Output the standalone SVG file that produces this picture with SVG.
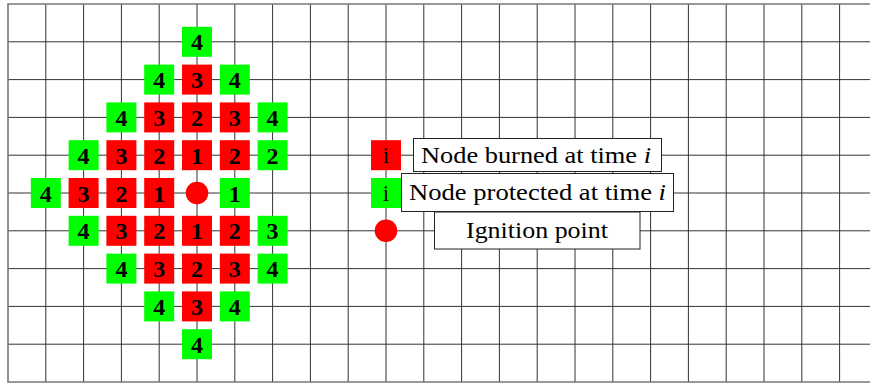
<svg xmlns="http://www.w3.org/2000/svg" width="870" height="384" viewBox="0 0 870 384">
<style>
.grid line{stroke:#333;stroke-width:1}
.frame{fill:none;stroke:#777;stroke-width:1.6}
.b{fill:#ff0000}
.p{fill:#00ff00}
.n text{font-family:"Liberation Serif","DejaVu Serif",serif;font-weight:bold;font-size:24px;text-anchor:middle;fill:#000}
.lg text{font-family:"Liberation Serif","DejaVu Serif",serif;font-size:23px;fill:#000}
.box{fill:#fff;stroke:#222;stroke-width:1}
</style>
<defs>
<rect id="sq" x="-15" y="-15" width="30" height="30"/>
</defs>
<rect width="870" height="384" fill="#fff"/>
<g class="grid">
<line x1="45.8" y1="4" x2="45.8" y2="382"/>
<line x1="83.6" y1="4" x2="83.6" y2="382"/>
<line x1="121.4" y1="4" x2="121.4" y2="382"/>
<line x1="159.2" y1="4" x2="159.2" y2="382"/>
<line x1="197" y1="4" x2="197" y2="382"/>
<line x1="234.8" y1="4" x2="234.8" y2="382"/>
<line x1="272.6" y1="4" x2="272.6" y2="382"/>
<line x1="310.4" y1="4" x2="310.4" y2="382"/>
<line x1="348.2" y1="4" x2="348.2" y2="382"/>
<line x1="386" y1="4" x2="386" y2="382"/>
<line x1="423.8" y1="4" x2="423.8" y2="382"/>
<line x1="461.6" y1="4" x2="461.6" y2="382"/>
<line x1="499.4" y1="4" x2="499.4" y2="382"/>
<line x1="537.2" y1="4" x2="537.2" y2="382"/>
<line x1="575" y1="4" x2="575" y2="382"/>
<line x1="612.8" y1="4" x2="612.8" y2="382"/>
<line x1="650.6" y1="4" x2="650.6" y2="382"/>
<line x1="688.4" y1="4" x2="688.4" y2="382"/>
<line x1="726.2" y1="4" x2="726.2" y2="382"/>
<line x1="764" y1="4" x2="764" y2="382"/>
<line x1="801.8" y1="4" x2="801.8" y2="382"/>
<line x1="839.6" y1="4" x2="839.6" y2="382"/>
<line x1="8" y1="41.8" x2="870" y2="41.8"/>
<line x1="8" y1="79.6" x2="870" y2="79.6"/>
<line x1="8" y1="117.4" x2="870" y2="117.4"/>
<line x1="8" y1="155.2" x2="870" y2="155.2"/>
<line x1="8" y1="193" x2="870" y2="193"/>
<line x1="8" y1="230.8" x2="870" y2="230.8"/>
<line x1="8" y1="268.6" x2="870" y2="268.6"/>
<line x1="8" y1="306.4" x2="870" y2="306.4"/>
<line x1="8" y1="344.2" x2="870" y2="344.2"/>
</g>
<path class="frame" d="M878,4 H8 V382 H878"/>
<g class="n">
<g id="n-1-5" class="p" transform="translate(197,41.8)"><use href="#sq"/><text y="8.5">4</text></g>
<g id="n-2-4" class="p" transform="translate(159.2,79.6)"><use href="#sq"/><text y="8.5">4</text></g>
<g id="n-2-5" class="b" transform="translate(197,79.6)"><use href="#sq"/><text y="8.5">3</text></g>
<g id="n-2-6" class="p" transform="translate(234.8,79.6)"><use href="#sq"/><text y="8.5">4</text></g>
<g id="n-3-3" class="p" transform="translate(121.4,117.4)"><use href="#sq"/><text y="8.5">4</text></g>
<g id="n-3-4" class="b" transform="translate(159.2,117.4)"><use href="#sq"/><text y="8.5">3</text></g>
<g id="n-3-5" class="b" transform="translate(197,117.4)"><use href="#sq"/><text y="8.5">2</text></g>
<g id="n-3-6" class="b" transform="translate(234.8,117.4)"><use href="#sq"/><text y="8.5">3</text></g>
<g id="n-3-7" class="p" transform="translate(272.6,117.4)"><use href="#sq"/><text y="8.5">4</text></g>
<g id="n-4-2" class="p" transform="translate(83.6,155.2)"><use href="#sq"/><text y="8.5">4</text></g>
<g id="n-4-3" class="b" transform="translate(121.4,155.2)"><use href="#sq"/><text y="8.5">3</text></g>
<g id="n-4-4" class="b" transform="translate(159.2,155.2)"><use href="#sq"/><text y="8.5">2</text></g>
<g id="n-4-5" class="b" transform="translate(197,155.2)"><use href="#sq"/><text y="8.5">1</text></g>
<g id="n-4-6" class="b" transform="translate(234.8,155.2)"><use href="#sq"/><text y="8.5">2</text></g>
<g id="n-4-7" class="p" transform="translate(272.6,155.2)"><use href="#sq"/><text y="8.5">2</text></g>
<g id="n-5-1" class="p" transform="translate(45.8,193)"><use href="#sq"/><text y="8.5">4</text></g>
<g id="n-5-2" class="b" transform="translate(83.6,193)"><use href="#sq"/><text y="8.5">3</text></g>
<g id="n-5-3" class="b" transform="translate(121.4,193)"><use href="#sq"/><text y="8.5">2</text></g>
<g id="n-5-4" class="b" transform="translate(159.2,193)"><use href="#sq"/><text y="8.5">1</text></g>
<g id="ignition" transform="translate(197,193)"><circle r="11.3" fill="#ff0000"/></g>
<g id="n-5-6" class="p" transform="translate(234.8,193)"><use href="#sq"/><text y="8.5">1</text></g>
<g id="n-6-2" class="p" transform="translate(83.6,230.8)"><use href="#sq"/><text y="8.5">4</text></g>
<g id="n-6-3" class="b" transform="translate(121.4,230.8)"><use href="#sq"/><text y="8.5">3</text></g>
<g id="n-6-4" class="b" transform="translate(159.2,230.8)"><use href="#sq"/><text y="8.5">2</text></g>
<g id="n-6-5" class="b" transform="translate(197,230.8)"><use href="#sq"/><text y="8.5">1</text></g>
<g id="n-6-6" class="b" transform="translate(234.8,230.8)"><use href="#sq"/><text y="8.5">2</text></g>
<g id="n-6-7" class="p" transform="translate(272.6,230.8)"><use href="#sq"/><text y="8.5">3</text></g>
<g id="n-7-3" class="p" transform="translate(121.4,268.6)"><use href="#sq"/><text y="8.5">4</text></g>
<g id="n-7-4" class="b" transform="translate(159.2,268.6)"><use href="#sq"/><text y="8.5">3</text></g>
<g id="n-7-5" class="b" transform="translate(197,268.6)"><use href="#sq"/><text y="8.5">2</text></g>
<g id="n-7-6" class="b" transform="translate(234.8,268.6)"><use href="#sq"/><text y="8.5">3</text></g>
<g id="n-7-7" class="p" transform="translate(272.6,268.6)"><use href="#sq"/><text y="8.5">4</text></g>
<g id="n-8-4" class="p" transform="translate(159.2,306.4)"><use href="#sq"/><text y="8.5">4</text></g>
<g id="n-8-5" class="b" transform="translate(197,306.4)"><use href="#sq"/><text y="8.5">3</text></g>
<g id="n-8-6" class="p" transform="translate(234.8,306.4)"><use href="#sq"/><text y="8.5">4</text></g>
<g id="n-9-5" class="p" transform="translate(197,344.2)"><use href="#sq"/><text y="8.5">4</text></g>
</g>
<g class="lg">
<g id="legend-burned" class="b" transform="translate(386,155.2)"><use href="#sq"/><text y="8" text-anchor="middle">i</text></g>
<g id="legend-protected" class="p" transform="translate(386,193)"><use href="#sq"/><text y="8" text-anchor="middle">i</text></g>
<g id="legend-ignition" transform="translate(386,230.8)"><circle r="11.3" fill="#ff0000"/></g>
<g id="label-burned"><rect class="box" x="413.5" y="138.5" width="248" height="33"/><text x="421" y="163" textLength="230" lengthAdjust="spacingAndGlyphs">Node burned at time <tspan font-style="italic">i</tspan></text></g>
<g id="label-protected"><rect class="box" x="401.5" y="173.5" width="272" height="38"/><text x="409" y="200" textLength="257" lengthAdjust="spacingAndGlyphs">Node protected at time <tspan font-style="italic">i</tspan></text></g>
<g id="label-ignition"><rect class="box" x="434.5" y="212" width="205.5" height="37"/><text x="466" y="238" textLength="142" lengthAdjust="spacingAndGlyphs">Ignition point</text></g>
</g>
</svg>
